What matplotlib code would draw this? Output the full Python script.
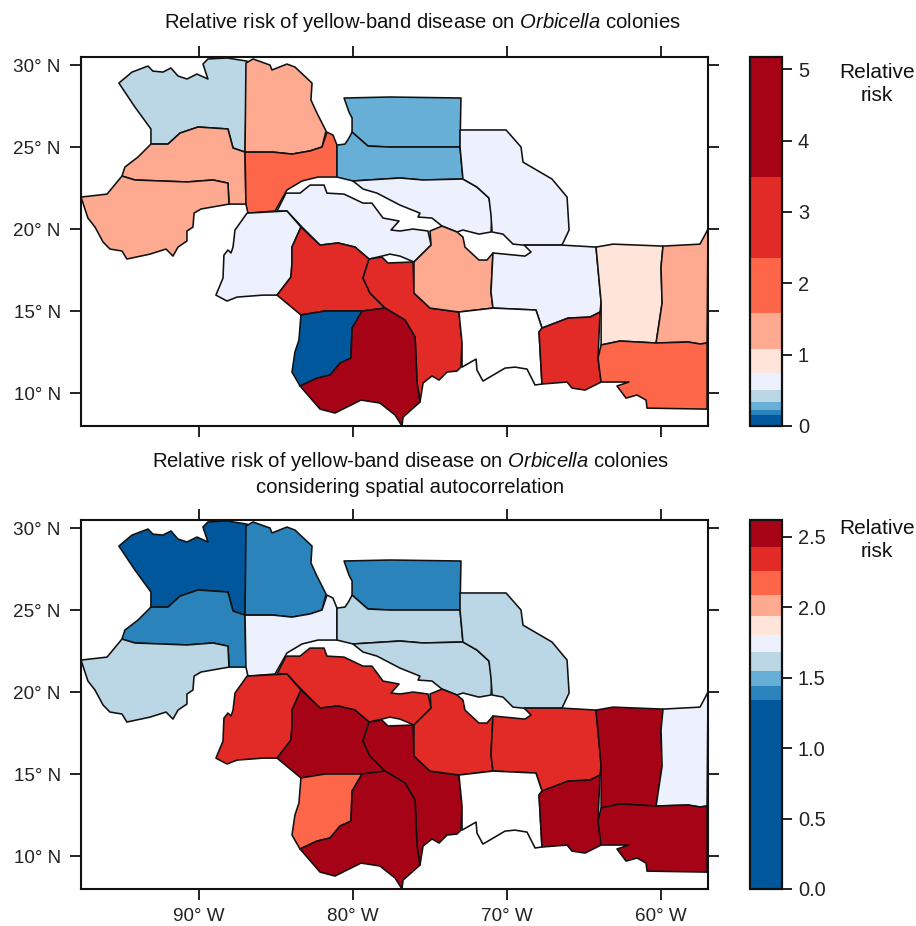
import numpy as np
import matplotlib
matplotlib.use("Agg")
import matplotlib.pyplot as plt
from matplotlib.collections import PolyCollection
from matplotlib.colors import ListedColormap, BoundaryNorm
from matplotlib.cm import ScalarMappable

plt.rcParams['font.family'] = ['Liberation Sans', 'DejaVu Sans']
plt.rcParams['mathtext.fontset'] = 'custom'
plt.rcParams['mathtext.it'] = 'Liberation Sans:italic'
plt.rcParams['mathtext.rm'] = 'Liberation Sans'

# Ecoregion outlines (lon, lat)
r01 = [(-95.20,28.90),(-94.35,29.57),(-93.31,29.94),(-92.99,29.63),(-92.34,29.57),(-91.82,29.82),(-91.36,29.33),(-90.78,29.15),(-90.13,29.45),(-89.42,29.15),(-89.74,30.06),(-89.42,30.37),(-88.18,30.43),(-86.88,30.24),(-87.01,24.69),(-87.79,24.94),(-88.12,26.10),(-90.06,26.22),(-91.23,25.85),(-92.01,25.18),(-93.12,25.18),(-93.12,26.10),(-94.16,27.44)]
r02 = [(-86.95,30.12),(-86.49,30.37),(-85.39,30.00),(-85.26,29.70),(-84.29,30.06),(-83.77,29.88),(-82.66,28.90),(-82.73,27.87),(-82.34,27.07),(-81.75,25.98),(-82.01,25.00),(-82.79,24.76),(-83.96,24.57),(-85.19,24.69),(-87.01,24.69)]
r03 = [(-95.00,23.23),(-94.81,23.78),(-93.96,24.39),(-93.12,25.18),(-92.01,25.18),(-91.23,25.85),(-90.06,26.22),(-88.12,26.10),(-87.79,24.94),(-87.01,24.69),(-86.95,21.52),(-88.05,21.52),(-88.12,22.80),(-89.09,22.99),(-90.78,22.87),(-94.16,22.99)]
r04 = [(-95.00,23.23),(-95.97,22.13),(-97.66,21.95),(-97.21,20.67),(-96.75,20.12),(-96.23,19.21),(-95.78,18.78),(-95.00,18.66),(-94.68,18.17),(-93.18,18.47),(-92.14,18.78),(-91.69,18.35),(-91.36,18.90),(-90.78,19.27),(-90.78,19.88),(-90.39,20.12),(-90.32,20.97),(-89.87,21.22),(-88.05,21.52),(-88.12,22.80),(-89.09,22.99),(-90.78,22.87),(-94.16,22.99)]
r05 = [(-87.01,24.69),(-85.19,24.69),(-83.96,24.57),(-82.79,24.76),(-82.01,25.00),(-81.69,25.91),(-81.30,25.73),(-81.04,25.12),(-81.04,24.02),(-81.04,23.17),(-82.27,23.17),(-83.31,22.93),(-84.29,22.38),(-85.06,21.10),(-86.82,20.97),(-86.95,21.52)]
r06 = [(-80.58,27.99),(-77.60,28.05),(-72.99,27.99),(-73.05,25.00),(-75.00,25.00),(-77.60,25.00),(-79.03,25.06),(-80.06,25.91),(-80.06,26.77),(-80.26,27.13)]
r07 = [(-80.06,25.91),(-79.03,25.06),(-77.60,25.00),(-73.05,25.00),(-72.86,23.05),(-75.45,22.99),(-76.95,23.11),(-80.00,22.93),(-81.04,23.17),(-81.04,24.02),(-81.04,25.12),(-80.52,25.18),(-80.26,25.55)]
r08 = [(-80.00,22.93),(-79.35,22.44),(-78.44,22.19),(-76.95,21.46),(-75.65,20.97),(-75.78,20.73),(-74.87,20.67),(-74.22,20.18),(-73.25,19.82),(-72.86,19.94),(-71.82,19.69),(-71.04,19.82),(-70.97,20.85),(-71.17,21.89),(-71.95,22.56),(-72.86,23.05),(-75.45,22.99),(-76.95,23.11)]
r09 = [(-73.05,26.04),(-70.06,26.04),(-69.09,25.00),(-68.96,24.08),(-67.08,23.05),(-66.10,21.95),(-65.97,19.94),(-66.43,19.02),(-68.96,19.02),(-69.61,19.08),(-70.26,19.69),(-70.97,19.82),(-71.04,20.85),(-71.17,21.89),(-71.95,22.56),(-72.86,23.05),(-73.05,25.00)]
r10 = [(-84.93,21.10),(-84.35,22.19),(-83.44,22.19),(-82.79,22.68),(-81.88,22.68),(-81.69,22.19),(-80.58,22.13),(-79.35,21.58),(-78.77,21.58),(-78.05,20.67),(-77.01,20.49),(-77.53,19.94),(-76.95,19.88),(-76.10,20.00),(-75.13,19.88),(-74.93,19.02),(-76.04,17.99),(-76.95,18.35),(-77.60,18.47),(-78.12,18.35),(-78.96,18.17),(-79.87,18.90),(-80.97,19.15),(-82.14,19.02),(-83.31,20.12),(-84.29,21.10)]
r11 = [(-84.29,21.10),(-83.38,20.12),(-83.96,18.90),(-83.96,17.93),(-84.03,17.07),(-84.93,15.97),(-85.84,15.97),(-87.53,15.85),(-88.18,15.61),(-88.90,15.97),(-88.44,17.01),(-88.38,18.41),(-88.12,18.72),(-87.92,18.54),(-87.79,18.90),(-87.66,19.94),(-86.88,20.97)]
r12 = [(-83.38,20.12),(-82.14,19.02),(-80.97,19.15),(-79.87,18.90),(-78.96,18.17),(-79.35,17.01),(-78.90,16.10),(-77.92,15.18),(-79.35,15.00),(-81.82,15.00),(-83.38,14.76),(-84.93,15.97),(-84.03,17.07),(-83.96,17.93),(-83.96,18.90)]
r13 = [(-78.96,18.17),(-78.12,18.29),(-77.73,17.93),(-76.10,17.99),(-76.04,16.10),(-75.00,15.18),(-73.12,14.94),(-72.92,13.23),(-72.99,11.58),(-73.25,11.34),(-73.89,11.28),(-74.41,10.79),(-74.87,11.04),(-75.45,10.61),(-75.65,9.45),(-75.84,10.61),(-75.97,13.41),(-76.62,14.45),(-77.92,15.18),(-78.90,16.10),(-79.35,17.01)]
r14 = [(-83.38,14.76),(-81.82,15.00),(-79.41,15.00),(-80.06,13.96),(-80.13,12.13),(-80.84,11.83),(-81.49,11.10),(-82.34,10.91),(-83.44,10.43),(-83.96,11.28),(-83.77,12.50),(-83.51,13.23)]
r15 = [(-79.41,15.00),(-77.92,15.18),(-76.62,14.45),(-75.97,13.41),(-75.84,10.61),(-75.65,9.45),(-76.75,8.53),(-76.82,7.99),(-77.27,8.66),(-78.25,9.39),(-79.48,9.57),(-81.17,8.78),(-82.14,9.02),(-83.44,10.43),(-82.34,10.91),(-81.49,11.10),(-80.84,11.83),(-80.13,12.13),(-80.06,13.96)]
r16 = [(-74.22,20.18),(-75.00,19.88),(-74.93,19.02),(-76.04,17.99),(-76.04,16.10),(-75.00,15.18),(-73.12,14.94),(-70.91,15.18),(-71.04,16.16),(-70.91,18.54),(-71.30,18.11),(-71.82,18.11),(-72.73,18.90),(-72.86,19.51),(-73.25,19.82)]
r17 = [(-70.91,18.54),(-68.83,18.35),(-68.44,18.60),(-68.89,19.02),(-66.43,19.02),(-64.22,18.90),(-63.89,15.55),(-63.96,14.94),(-64.61,14.63),(-66.04,14.57),(-67.73,13.96),(-68.12,15.06),(-70.91,15.18),(-71.04,16.16)]
r18 = [(-70.91,15.18),(-68.12,15.06),(-67.73,13.96),(-67.92,13.72),(-67.73,10.55),(-68.18,10.49),(-68.70,11.46),(-69.48,11.58),(-70.13,11.52),(-71.56,10.73),(-71.95,11.40),(-72.01,12.07),(-72.92,11.58),(-72.92,13.05),(-73.12,14.94)]
r19 = [(-67.73,13.96),(-66.04,14.57),(-64.61,14.63),(-63.96,14.94),(-64.09,12.13),(-63.89,10.67),(-64.93,10.18),(-65.78,10.30),(-66.10,10.67),(-67.73,10.55),(-67.92,13.72)]
r20 = [(-64.22,18.90),(-63.11,19.08),(-59.87,18.96),(-60.00,17.68),(-59.93,15.49),(-60.32,13.05),(-62.66,13.17),(-63.89,12.93),(-63.89,15.55)]
r21 = [(-59.87,18.96),(-57.47,19.08),(-57.08,19.76),(-56.95,20.00),(-57.01,13.05),(-57.47,12.99),(-58.24,13.11),(-60.32,13.05),(-59.93,15.49),(-60.00,17.68)]
r22 = [(-63.89,12.93),(-62.66,13.17),(-60.32,13.05),(-58.24,13.11),(-57.47,12.99),(-57.01,13.05),(-57.01,9.02),(-60.91,9.08),(-60.97,9.57),(-61.56,9.88),(-62.27,9.69),(-62.86,10.43),(-62.08,10.67),(-63.89,10.67),(-64.09,12.13)]
regions = [r01,r02,r03,r04,r05,r06,r07,r08,r09,r10,r11,r12,r13,r14,r15,r16,r17,r18,r19,r20,r21,r22]

# Relative risk per region (nan = no data)
risk_top = [0.42,1.3,1.3,1.3,2.0,0.28,0.28,0.6,0.6,0.6,0.6,3.0,3.0,0.05,4.5,1.3,0.6,np.nan,3.0,0.9,1.3,2.0]
risk_bottom = [1.2,1.4,1.4,1.6,1.75,1.4,1.6,1.6,1.6,2.35,2.35,2.5,2.5,2.2,2.5,2.35,2.35,np.nan,2.5,2.5,1.75,2.5]

breaks_top = [0,0.15,0.23,0.34,0.50,0.74,1.08,1.59,2.36,3.49,5.17]
breaks_bottom = [0,1.34,1.44,1.55,1.68,1.80,1.94,2.09,2.26,2.43,2.62]
palette = ['#01579b','#2a84bb','#67afd6','#bbd6e5','#ecf1fd','#ffe4da','#fdaa91','#fe664a','#e22a27','#a60416']
ticks_top = [0,1,2,3,4,5]
ticks_bottom = [0.0,0.5,1.0,1.5,2.0,2.5]
lon_ticks = [-90,-80,-70,-60]
lat_ticks = [10,15,20,25,30]

W, H = 916, 926
fig = plt.figure(figsize=(W/100, H/100), dpi=100)
cmap = ListedColormap(palette)
cmap.set_bad('white')
FS = 13.6
TL = 8

def box(l, t, r, b):
    return [l/W, 1-b/H, (r-l)/W, (b-t)/H]

def panel(y0, y1, values, breaks, ticks, fmt, xlabels):
    norm = BoundaryNorm(breaks, cmap.N)
    ax = fig.add_axes(box(81, y0, 708, y1))
    pc = PolyCollection(regions, array=np.ma.masked_invalid(values), cmap=cmap, norm=norm,
                        edgecolors='#111111', linewidths=1.15)
    ax.add_collection(pc)
    ax.set_xlim(-97.66, -56.95)
    ax.set_ylim(7.99, 30.49)
    ax.set_xticks(lon_ticks)
    ax.set_yticks(lat_ticks)
    ax.set_xticklabels([f"{abs(v)}\u00b0 W" for v in lon_ticks] if xlabels else [])
    ax.set_yticklabels([f"{v}\u00b0 N" for v in lat_ticks])
    ax.tick_params(axis='both', length=TL, width=1.3, labelsize=FS, color='#111111',
                   labelcolor='#222222', top=True, right=True, pad=6.5)
    ax.tick_params(axis='x', pad=6)
    for s in ax.spines.values():
        s.set_linewidth(1.5)
        s.set_color('#111111')
    cax = fig.add_axes(box(750, y0, 782, y1))
    sm = ScalarMappable(norm=norm, cmap=cmap)
    cb = fig.colorbar(sm, cax=cax, spacing='proportional', ticks=ticks)
    cb.ax.set_yticklabels([fmt.format(t) for t in ticks])
    cb.ax.minorticks_off()
    cb.ax.tick_params(length=7, width=1.3, labelsize=14.4, color='#111111', labelcolor='#222222', pad=4.5)
    cb.outline.set_linewidth(1.6)
    cb.outline.set_edgecolor('#111111')

panel(57, 426, risk_top, breaks_top, ticks_top, "{:d}", False)
panel(520, 889, risk_bottom, breaks_bottom, ticks_bottom, "{:.1f}", True)

TS = 14.6
def label(x, y, s, size=TS):
    fig.text(x/W, 1-y/H, s, ha='center', va='center', fontsize=size, color='#111111', linespacing=1.3)

label(422, 23, r"Relative risk of yellow-band disease on $\mathit{Orbicella}$ colonies")
label(410, 462, r"Relative risk of yellow-band disease on $\mathit{Orbicella}$ colonies")
label(410, 487, "considering spatial autocorrelation")
label(877, 84, "Relative\nrisk", 15)
label(877, 540, "Relative\nrisk", 15)

fig.savefig("out.png", dpi=100)
